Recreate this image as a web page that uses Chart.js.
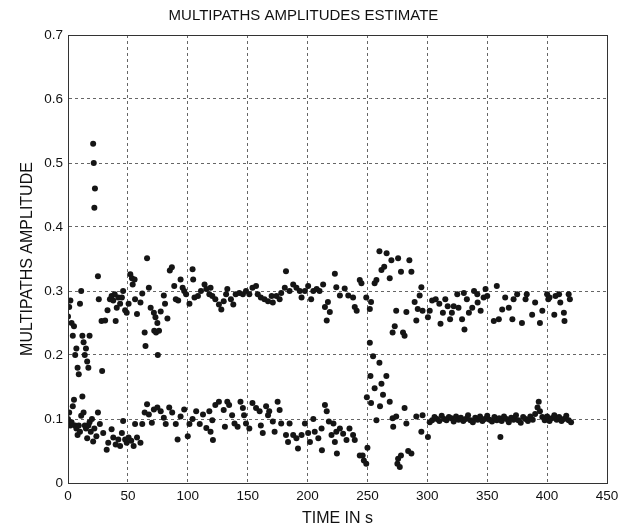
<!DOCTYPE html>
<html>
<head>
<meta charset="utf-8">
<title>Multipaths amplitudes estimate</title>
<script src="https://cdn.jsdelivr.net/npm/chart.js@4/dist/chart.umd.min.js"></script>
<style>
  body { margin: 0; background: #fff; }
  canvas { display: block; }
</style>
</head>
<body>
<canvas id="scatterChart" width="635" height="528"></canvas>
<script>
// Upper path (around 0.3), time in s and estimated amplitude
var upperTime = [0, 1, 2, 3, 4, 5, 6, 7, 8, 9, 10, 11, 12, 13, 14, 15, 16, 17, 18, 21, 21.5, 22, 22.5, 25, 25.7, 28, 28.5, 31, 33, 35,
  36.4, 37.8, 39, 39.8, 40.7, 42, 43.5, 45, 46, 47.7, 49, 50.6, 52, 53.4, 54, 55.6, 56, 57.6, 60.5, 62,
  64, 64.7, 66, 67.5, 69, 71.7, 72, 73, 73.5, 74.6, 75, 76, 77.4, 80, 81, 83, 85, 86.7, 88.7, 90,
  92, 94, 95.7, 97, 98.6, 101.4, 104, 104.5, 105.6, 108.5, 111, 114, 115.5, 118, 119, 120.5, 123, 126, 128, 130,
  132, 133, 136, 138, 140, 143, 146, 148.6, 151.4, 154, 157, 158.4, 161, 164, 167, 170, 171, 174, 176.7, 178,
  181, 182, 185, 188, 190.7, 193.5, 195, 197.8, 200.5, 203, 204.8, 207.6, 210, 213, 214.5, 216, 217, 218.6, 222.8, 224,
  227, 231, 234, 238, 239.4, 241, 243.6, 245, 249, 252, 253, 256, 257.5, 260, 261.7, 264, 266, 268.6, 270, 271,
  272.8, 274, 275.6, 278, 279.7, 281, 282.5, 285, 286.7, 289.4, 290.8, 292, 293.6, 295, 296, 300.5, 302, 304, 307, 310,
  311, 313, 315, 317, 319, 320.5, 322, 325, 326, 329, 330.5, 331, 333, 334.7, 337.5, 339, 341.7, 342, 344.5, 347,
  348.6, 350, 355.5, 358, 359.7, 362.5, 365, 368, 371, 372, 375, 379, 382, 383, 387.5, 390, 394, 396, 400, 401,
  402, 406, 407, 410, 411, 414, 414.5, 418, 419];
var upperAmp = [0.26, 0.275, 0.285, 0.25, 0.23, 0.245, 0.20, 0.21, 0.18, 0.17, 0.28, 0.30, 0.23, 0.22, 0.20, 0.21, 0.19, 0.18, 0.23, 0.53, 0.50, 0.43, 0.46, 0.323, 0.287, 0.253, 0.175, 0.254, 0.27, 0.287,
  0.292, 0.285, 0.295, 0.253, 0.274, 0.29, 0.28, 0.29, 0.30, 0.27, 0.266, 0.28, 0.326, 0.32, 0.31, 0.318, 0.287, 0.264, 0.282, 0.296,
  0.235, 0.214, 0.351, 0.305, 0.274, 0.266, 0.238, 0.259, 0.235, 0.25, 0.20, 0.238, 0.268, 0.293, 0.28, 0.257, 0.332, 0.337, 0.308, 0.287,
  0.285, 0.318, 0.305, 0.30, 0.295, 0.28, 0.334, 0.318, 0.29, 0.292, 0.30, 0.31, 0.303, 0.295, 0.305, 0.292, 0.287, 0.279, 0.271, 0.284,
  0.295, 0.303, 0.287, 0.279, 0.295, 0.297, 0.295, 0.30, 0.295, 0.305, 0.308, 0.295, 0.29, 0.287, 0.284, 0.292, 0.282, 0.292, 0.287, 0.297,
  0.305, 0.331, 0.30, 0.31, 0.305, 0.30, 0.29, 0.30, 0.308, 0.287, 0.30, 0.303, 0.30, 0.31, 0.275, 0.254, 0.283, 0.267, 0.327, 0.306,
  0.293, 0.304, 0.293, 0.29, 0.275, 0.269, 0.317, 0.312, 0.29, 0.272, 0.283, 0.312, 0.317, 0.362, 0.333, 0.338, 0.359, 0.32, 0.348, 0.235,
  0.245, 0.269, 0.351, 0.33, 0.235, 0.23, 0.267, 0.348, 0.33, 0.283, 0.254, 0.272, 0.293, 0.306, 0.269, 0.259, 0.269, 0.285, 0.287, 0.28,
  0.249, 0.266, 0.287, 0.276, 0.256, 0.266, 0.276, 0.295, 0.274, 0.256, 0.297, 0.24, 0.287, 0.266, 0.274, 0.30, 0.295, 0.282, 0.269, 0.29,
  0.303, 0.292, 0.253, 0.308, 0.256, 0.271, 0.29, 0.274, 0.256, 0.287, 0.295, 0.25, 0.287, 0.295, 0.263, 0.282, 0.25, 0.269, 0.295, 0.287,
  0.29, 0.263, 0.292, 0.295, 0.282, 0.266, 0.253, 0.295, 0.287];

// Lower path (around 0.1)
var lowerTime = [0, 1, 2, 3, 4, 5, 6, 7, 8, 9, 10, 11, 12, 13, 14, 15, 16, 17, 18, 19, 20, 21, 22, 23.7, 25, 26.6, 29.4, 32.3, 33.6, 36.4,
  37.8, 39.8, 42, 43.5, 45, 46, 47.7, 49, 50.6, 52.8, 54.8, 56, 57.6, 60.5, 62, 64, 66, 67.5, 70, 71.7,
  74.6, 77.4, 80, 81.6, 84.5, 87, 90, 91.5, 94, 97, 100, 101.4, 104, 107, 110, 112.7, 115.5, 118, 119, 120.5,
  121, 123, 126, 130, 131, 133, 134.5, 137, 139, 141.6, 144, 146, 147, 148.6, 151.4, 154, 157, 160, 161, 162.6,
  165.4, 167, 168, 171, 172.5, 175, 176.7, 178, 182, 183.7, 185, 188, 190.7, 192, 195, 197.8, 200.5, 202, 204.8, 206,
  209, 211.7, 212, 214.5, 216, 217.8, 220, 221.6, 222.8, 224, 224.5, 227, 229.7, 232.5, 235, 238, 239.4, 243.6, 246, 247,
  249, 249.5, 250, 252, 252.5, 253, 254.7, 256, 257.5, 260, 260.5, 261.7, 263, 265.8, 268.6, 271, 271.5, 274, 275, 275.6,
  277, 278, 281, 282.5, 284, 286.7, 290.8, 295, 296, 300.5, 302, 304, 306, 308, 310, 312, 314, 316, 318, 320,
  322, 324, 326, 328, 330, 332, 334, 336, 338, 340, 342, 344, 346, 348, 350, 352, 354, 356, 358, 360,
  361, 362, 364, 366, 368, 370, 372, 374, 376, 378, 380, 382, 384, 386, 388, 390, 392, 393, 394, 396,
  398, 400, 402, 404, 406, 408, 410, 412, 414, 416, 418, 420];
var lowerAmp = [0.10, 0.11, 0.09, 0.095, 0.12, 0.13, 0.09, 0.085, 0.075, 0.09, 0.08, 0.105, 0.135, 0.11, 0.09, 0.085, 0.07, 0.09, 0.095, 0.08, 0.10, 0.065, 0.085, 0.073, 0.11, 0.092, 0.078, 0.052, 0.063, 0.084,
  0.071, 0.06, 0.068, 0.058, 0.078, 0.097, 0.068, 0.063, 0.071, 0.066, 0.058, 0.092, 0.071, 0.063, 0.092, 0.11, 0.123, 0.107, 0.094, 0.115,
  0.118, 0.112, 0.102, 0.092, 0.118, 0.11, 0.092, 0.068, 0.104, 0.115, 0.073, 0.092, 0.10, 0.112, 0.092, 0.107, 0.086, 0.112, 0.08, 0.098,
  0.067, 0.122, 0.127, 0.114, 0.088, 0.127, 0.122, 0.106, 0.093, 0.088, 0.127, 0.117, 0.106, 0.093, 0.085, 0.125, 0.117, 0.112, 0.09, 0.078,
  0.12, 0.106, 0.112, 0.096, 0.08, 0.127, 0.114, 0.093, 0.075, 0.064, 0.093, 0.075, 0.07, 0.054, 0.075, 0.093, 0.078, 0.064, 0.10, 0.08,
  0.07, 0.085, 0.051, 0.122, 0.112, 0.096, 0.075, 0.093, 0.064, 0.08, 0.046, 0.085, 0.077, 0.067, 0.085, 0.075, 0.067, 0.043, 0.043, 0.035,
  0.03, 0.134, 0.055, 0.219, 0.167, 0.125, 0.198, 0.148, 0.098, 0.188, 0.12, 0.155, 0.138, 0.167, 0.127, 0.101, 0.088, 0.104, 0.03, 0.038,
  0.025, 0.043, 0.117, 0.093, 0.05, 0.046, 0.104, 0.08, 0.106, 0.072, 0.095, 0.098, 0.103, 0.10, 0.097, 0.105, 0.10, 0.098, 0.103, 0.101,
  0.096, 0.104, 0.099, 0.102, 0.097, 0.10, 0.106, 0.098, 0.095, 0.102, 0.099, 0.104, 0.097, 0.10, 0.105, 0.099, 0.096, 0.103, 0.098, 0.101,
  0.072, 0.097, 0.104, 0.10, 0.095, 0.102, 0.099, 0.106, 0.098, 0.094, 0.103, 0.10, 0.097, 0.104, 0.099, 0.108, 0.118, 0.127, 0.112, 0.103,
  0.098, 0.104, 0.097, 0.101, 0.106, 0.099, 0.103, 0.097, 0.10, 0.105, 0.098, 0.095];

// Axis ticks
var xTicks = [0, 50, 100, 150, 200, 250, 300, 350, 400, 450];
var yTicks = [0, 0.1, 0.2, 0.3, 0.4, 0.5, 0.6, 0.7];

function toPoints(times, amps) {
  return times.map(function (t, i) { return { x: t, y: amps[i] }; });
}

// draws the closed box around the plot area (matlab style axes)
var boxPlugin = {
  id: 'box',
  afterDraw: function (chart) {
    var a = chart.chartArea;
    var ctx = chart.ctx;
    ctx.save();
    ctx.strokeStyle = '#333';
    ctx.lineWidth = 1;
    ctx.setLineDash([]);
    ctx.strokeRect(Math.round(a.left) + 0.5, Math.round(a.top) + 0.5,
      Math.round(a.right - a.left), Math.round(a.bottom - a.top));
    ctx.restore();
  }
};

var fontFamily = '"Liberation Sans", Arial, sans-serif';

var chart = new Chart(document.getElementById('scatterChart'), {
  type: 'scatter',
  data: {
    datasets: [{
      label: 'Path 1',
      data: toPoints(upperTime, upperAmp),
      backgroundColor: '#151515',
      borderWidth: 0,
      pointRadius: 3
    }, {
      label: 'Path 2',
      data: toPoints(lowerTime, lowerAmp),
      backgroundColor: '#151515',
      borderWidth: 0,
      pointRadius: 3
    }]
  },
  options: {
    responsive: false,
    animation: false,
    devicePixelRatio: 1,
    layout: { padding: { left: 0, right: 28, top: 0, bottom: 0 } },
    plugins: {
      legend: { display: false },
      tooltip: { enabled: false },
      title: {
        display: true,
        text: 'MULTIPATHS AMPLITUDES ESTIMATE',
        color: '#111',
        font: { family: fontFamily, size: 15, weight: 'normal', lineHeight: 1.2 },
        padding: { top: 7, bottom: 10 }
      }
    },
    scales: {
      x: {
        type: 'linear',
        min: 0,
        max: 450,
        afterBuildTicks: function (scale) {
          scale.ticks = xTicks.map(function (v) { return { value: v }; });
        },
        afterFit: function (scale) { scale.height = 45; },
        ticks: {
          color: '#111',
          padding: 5,
          maxRotation: 0,
          font: { family: fontFamily, size: 13.5 }
        },
        grid: {
          color: '#666',
          lineWidth: 1,
          drawTicks: false
        },
        border: { display: true, color: '#333', dash: [3, 3] },
        title: {
          display: true,
          text: 'TIME IN s',
          color: '#111',
          font: { family: fontFamily, size: 16, lineHeight: 1.2 },
          padding: { top: 0, bottom: 0 }
        }
      },
      y: {
        type: 'linear',
        min: 0,
        max: 0.7,
        afterBuildTicks: function (scale) {
          scale.ticks = yTicks.map(function (v) { return { value: v }; });
        },
        afterFit: function (scale) { scale.width = 68; },
        ticks: {
          color: '#111',
          padding: 5,
          font: { family: fontFamily, size: 13.5 },
          callback: function (v) { return String(+v.toFixed(1)); }
        },
        grid: {
          color: '#666',
          lineWidth: 1,
          drawTicks: false
        },
        border: { display: true, color: '#333', dash: [3, 3] },
        title: {
          display: true,
          text: 'MULTIPATHS AMPLITUDE',
          color: '#111',
          font: { family: fontFamily, size: 16, lineHeight: 1.2 },
          padding: { top: 18, bottom: 0 }
        }
      }
    }
  },
  plugins: [boxPlugin]
});
</script>
</body>
</html>
